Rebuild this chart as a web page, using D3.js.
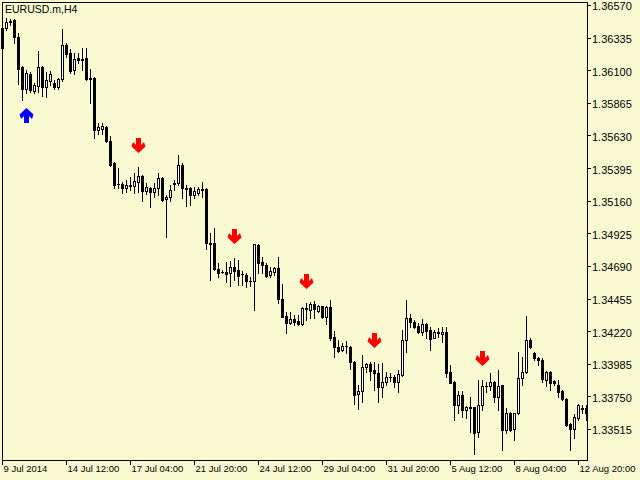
<!DOCTYPE html>
<html><head><meta charset="utf-8">
<script src="https://cdn.jsdelivr.net/npm/d3@7"></script>
<style>html,body{margin:0;padding:0;background:#FAFAD2;overflow:hidden}</style>
</head><body>
<svg id="chart" width="640" height="480"></svg>
<script>
const chartTitle = "EURUSD.m,H4";

const open = [1.36404,1.36404,1.36444,1.36462,1.36339,1.36120,1.35965,1.36076,1.35950,1.35986,
1.36120,1.35976,1.36026,1.36010,1.35977,1.36035,1.36282,1.36222,1.36102,1.36186,
1.36181,1.36186,1.36042,1.36042,1.35669,1.35680,1.35693,1.35592,1.35434,1.35280,
1.35280,1.35249,1.35273,1.35266,1.35297,1.35338,1.35232,1.35249,1.35225,1.35249,
1.35321,1.35170,1.35185,1.35285,1.35285,1.35417,1.35251,1.35249,1.35201,1.35218,
1.35242,1.35242,1.34853,1.34853,1.34666,1.34648,1.34648,1.34637,1.34685,1.34661,
1.34632,1.34625,1.34584,1.34584,1.34841,1.34721,1.34697,1.34625,1.34644,1.34673,
1.34450,1.34329,1.34281,1.34310,1.34295,1.34272,1.34385,1.34373,1.34413,1.34365,
1.34401,1.34320,1.34396,1.34180,1.34108,1.34084,1.34113,1.34108,1.34000,1.33764,
1.33789,1.33964,1.33983,1.33940,1.33916,1.33820,1.33852,1.33892,1.33892,1.33856,
1.33904,1.34156,1.34313,1.34284,1.34257,1.34216,1.34269,1.34228,1.34173,1.34212,
1.34197,1.34212,1.33928,1.33852,1.33688,1.33760,1.33652,1.33671,1.33671,1.33491,
1.33688,1.33825,1.33825,1.33856,1.33744,1.33832,1.33508,1.33628,1.33513,1.33628,
1.33880,1.33928,1.34156,1.34065,1.34025,1.34012,1.33868,1.33928,1.33863,1.33832,
1.33791,1.33729,1.33551,1.33513,1.33592,1.33664,1.33664];

const high = [1.36412,1.36476,1.36469,1.36469,1.36368,1.36130,1.36102,1.36087,1.36008,1.36242,
1.36130,1.36084,1.36098,1.36030,1.36042,1.36395,1.36294,1.36251,1.36222,1.36222,
1.36258,1.36258,1.36107,1.36053,1.35718,1.35718,1.35698,1.35626,1.35441,1.35396,
1.35297,1.35309,1.35333,1.35357,1.35405,1.35345,1.35290,1.35261,1.35285,1.35357,
1.35333,1.35201,1.35273,1.35309,1.35489,1.35429,1.35273,1.35261,1.35261,1.35261,
1.35297,1.35249,1.34929,1.34961,1.34709,1.34661,1.34721,1.34728,1.34745,1.34733,
1.34656,1.34637,1.34612,1.34850,1.34845,1.34757,1.34709,1.34680,1.34685,1.34757,
1.34560,1.34360,1.34360,1.34336,1.34336,1.34392,1.34425,1.34432,1.34440,1.34409,
1.34404,1.34404,1.34445,1.34223,1.34156,1.34137,1.34151,1.34113,1.34003,1.33832,
1.34048,1.33993,1.34000,1.34000,1.33983,1.33993,1.33928,1.33916,1.33904,1.33940,
1.34228,1.34445,1.34344,1.34300,1.34277,1.34306,1.34281,1.34248,1.34228,1.34241,
1.34248,1.34248,1.33976,1.33863,1.33791,1.33791,1.33681,1.33748,1.33674,1.33868,
1.33868,1.33856,1.33916,1.33863,1.33940,1.33835,1.33664,1.33640,1.33632,1.34072,
1.34036,1.34329,1.34169,1.34072,1.34036,1.34025,1.33935,1.33935,1.33868,1.33868,
1.33796,1.33736,1.33556,1.33623,1.33695,1.33688,1.33688];

const low = [1.36253,1.36390,1.36426,1.36296,1.36001,1.35886,1.35936,1.35943,1.35936,1.35943,
1.35914,1.35907,1.35994,1.35967,1.35967,1.36025,1.36198,1.36078,1.36073,1.36154,
1.36102,1.36030,1.35862,1.35610,1.35641,1.35641,1.35585,1.35410,1.35251,1.35249,
1.35213,1.35221,1.35237,1.35213,1.35225,1.35160,1.35208,1.35117,1.35189,1.35201,
1.35160,1.34901,1.35160,1.35237,1.35273,1.35177,1.35122,1.35129,1.35177,1.35201,
1.35189,1.34810,1.34589,1.34661,1.34612,1.34637,1.34576,1.34545,1.34589,1.34553,
1.34553,1.34540,1.34545,1.34373,1.34641,1.34637,1.34612,1.34608,1.34625,1.34421,
1.34320,1.34209,1.34272,1.34264,1.34264,1.34267,1.34300,1.34313,1.34313,1.34360,
1.34313,1.34272,1.34156,1.34036,1.34072,1.34079,1.34060,1.33945,1.33695,1.33659,
1.33712,1.33928,1.33868,1.33796,1.33712,1.33748,1.33832,1.33863,1.33820,1.33784,
1.33900,1.34072,1.34252,1.34241,1.34205,1.34192,1.34169,1.34084,1.34169,1.34180,
1.34144,1.33888,1.33844,1.33580,1.33633,1.33599,1.33592,1.33496,1.33335,1.33455,
1.33652,1.33784,1.33796,1.33712,1.33652,1.33364,1.33484,1.33503,1.33436,1.33625,
1.33832,1.33916,1.34097,1.34012,1.33976,1.33856,1.33825,1.33796,1.33832,1.33748,
1.33724,1.33540,1.33364,1.33448,1.33580,1.33633,1.33580];

const close = [1.36260,1.36448,1.36458,1.36339,1.36109,1.35965,1.36080,1.35954,1.35990,1.36120,
1.35976,1.36030,1.36076,1.35981,1.36037,1.36282,1.36215,1.36095,1.36179,1.36174,
1.36177,1.36037,1.36040,1.35669,1.35693,1.35698,1.35592,1.35417,1.35273,1.35277,
1.35249,1.35273,1.35268,1.35304,1.35338,1.35232,1.35257,1.35225,1.35249,1.35321,
1.35165,1.35189,1.35237,1.35282,1.35417,1.35249,1.35246,1.35201,1.35232,1.35242,
1.35239,1.34853,1.34850,1.34666,1.34641,1.34646,1.34632,1.34685,1.34656,1.34617,
1.34630,1.34584,1.34581,1.34846,1.34713,1.34697,1.34620,1.34656,1.34675,1.34450,
1.34324,1.34281,1.34310,1.34288,1.34272,1.34385,1.34382,1.34413,1.34378,1.34401,
1.34320,1.34396,1.34169,1.34104,1.34079,1.34113,1.34111,1.34000,1.33760,1.33789,
1.33960,1.33983,1.33935,1.33916,1.33820,1.33852,1.33888,1.33890,1.33856,1.33909,
1.34156,1.34313,1.34288,1.34252,1.34216,1.34269,1.34223,1.34161,1.34212,1.34209,
1.34216,1.33921,1.33849,1.33688,1.33760,1.33652,1.33671,1.33669,1.33488,1.33688,
1.33825,1.33823,1.33856,1.33744,1.33825,1.33508,1.33628,1.33508,1.33628,1.33880,
1.33928,1.34156,1.34108,1.34025,1.34012,1.33873,1.33928,1.33849,1.33844,1.33784,
1.33729,1.33544,1.33513,1.33599,1.33688,1.33661,1.33633];

const priceTicks = [1.36570,1.36335,1.36100,1.35865,1.35630,1.35395,1.35160,1.34925,
1.34690,1.34455,1.34220,1.33985,1.33750,1.33515];
const timeTickBars = [0,16,32,48,64,80,96,112,128,144];
const timeTickLabels = ["9 Jul 2014","14 Jul 12:00","17 Jul 04:00","21 Jul 20:00","24 Jul 12:00",
"29 Jul 04:00","31 Jul 20:00","5 Aug 12:00","8 Aug 04:00","12 Aug 20:00"];
const sellSignalBars = [34,58,76,93,120];
const buySignalBars = [6];

const BG = "#FAFAD2";
const FONT = "'Liberation Sans', Arial, sans-serif";
const svg = d3.select("#chart").attr("shape-rendering","crispEdges");
svg.append("rect").attr("width",640).attr("height",480).attr("fill",BG);

const n = open.length;
const x = d3.scaleLinear().domain([0, n-1]).range([2, 586]);
const y = d3.scaleLinear().domain([priceTicks[priceTicks.length-1], priceTicks[0]]).range([429, 5]);
const py = v => Math.round(y(v));

const candles = d3.range(n).map(i => ({i, o:open[i], h:high[i], l:low[i], c:close[i]}));
const g = svg.append("g");

// wicks
g.selectAll("rect.wick").data(candles).join("rect").attr("class","wick")
  .attr("x", d => x(d.i)).attr("width",1)
  .attr("y", d => py(d.h)).attr("height", d => Math.max(1, py(d.l)-py(d.h)+1))
  .attr("fill","#000");

// bear bodies
g.selectAll("rect.bear").data(candles.filter(d => d.c <= d.o)).join("rect").attr("class","bear")
  .attr("x", d => x(d.i)-1).attr("width",3)
  .attr("y", d => py(d.o)).attr("height", d => Math.max(1, py(d.c)-py(d.o)+1))
  .attr("fill","#000");

// bull bodies (hollow)
g.selectAll("rect.bull").data(candles.filter(d => d.c > d.o)).join("rect").attr("class","bull")
  .attr("x", d => x(d.i)-0.5).attr("width",2)
  .attr("y", d => py(d.c)+0.5).attr("height", d => Math.max(0, py(d.o)-py(d.c)))
  .attr("fill","#fff").attr("stroke","#000").attr("stroke-width",1);

// frame
svg.append("rect").attr("x",2.5).attr("y",2.5).attr("width",585).attr("height",458)
  .attr("fill","none").attr("stroke","#000");

// price axis
const ya = svg.append("g").attr("transform","translate(587,0)")
  .call(d3.axisRight(y).tickValues(priceTicks).tickSize(4).tickFormat(d3.format(".5f")));
ya.select(".domain").remove();
ya.selectAll("line").attr("stroke","#000");
ya.selectAll("text").attr("x",5).attr("dy","0.45em")
  .attr("font-family",FONT).attr("font-size","11px").attr("fill","#000");

// time axis
const xa = svg.append("g").attr("transform","translate(0,460)")
  .call(d3.axisBottom(x).tickValues(timeTickBars).tickSize(5)
    .tickFormat((d,k) => timeTickLabels[k]));
xa.select(".domain").remove();
xa.selectAll("line").attr("stroke","#000");
xa.selectAll("text").attr("x",1).attr("y",12).attr("dy",0).attr("text-anchor","start")
  .attr("font-family",FONT).attr("font-size","9.5px").attr("fill","#000");

// title
svg.append("text").attr("x",5).attr("y",13).text(chartTitle)
  .attr("font-family",FONT).attr("font-size","10.5px").attr("fill","#000");

// signal arrows
const downArrow = "M-2.5,-15H2.5V-8L5.5,-11L7,-6.5L0,0L-7,-6.5L-5.5,-11L-2.5,-8Z";
const upArrow = "M-2.5,15H2.5V8L5.5,11L7,6.5L0,0L-7,6.5L-5.5,11L-2.5,8Z";
svg.selectAll("path.sell").data(sellSignalBars).join("path").attr("class","sell")
  .attr("d", downArrow).attr("shape-rendering","auto").attr("fill","#FF0000")
  .attr("transform", i => `translate(${x(i)+0.5},${py(high[i])-14})`);
svg.selectAll("path.buy").data(buySignalBars).join("path").attr("class","buy")
  .attr("d", upArrow).attr("shape-rendering","auto").attr("fill","#0000FF")
  .attr("transform", i => `translate(${x(i)+0.5},${py(low[i])+15})`);
</script>
</body></html>
